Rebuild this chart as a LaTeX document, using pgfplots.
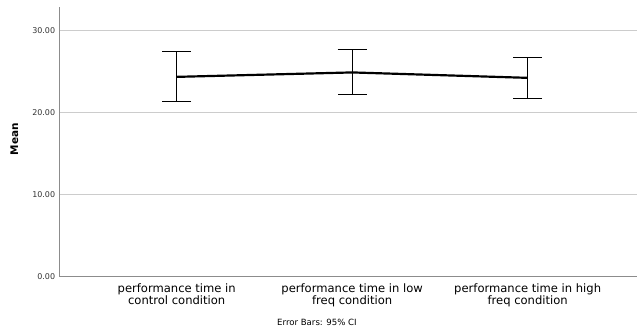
\documentclass[border=0pt]{standalone}
\usepackage{fontspec}
\setmainfont{DejaVu Sans}
\usepackage{pgfplots}
\pgfplotsset{compat=1.18}
\definecolor{gridgray}{HTML}{CCCCCC}
\definecolor{axisgray}{HTML}{8C8C8C}
\definecolor{ticktext}{HTML}{333333}
\begin{document}
\begin{tikzpicture}
\begin{axis}[
  at={(0,0)}, anchor=south west,
  scale only axis,
  width=577.7bp, height=269.4bp,
  xmin=-0.669, xmax=2.623,
  ymin=0, ymax=32.8,
  axis x line*=bottom, axis y line*=left,
  axis line style={axisgray, line width=1pt, -},
  xtick={0,1,2},
  xticklabels={{performance time in\\control condition},{performance time in low\\freq condition},{performance time in high\\freq condition}},
  xticklabel style={align=center, font=\fontsize{11.6}{12}\selectfont, text=black, inner sep=0pt, yshift=-7bp},
  ytick={0,10,20,30},
  yticklabels={0.00,10.00,20.00,30.00},
  yticklabel style={font=\fontsize{8}{9}\selectfont, text=ticktext, inner sep=0pt, xshift=-4bp},
  major tick length=0pt,
  ymajorgrids, grid style={gridgray, line width=0.8pt},
  clip=false,
]
\addplot[black, line width=2.2pt, mark=none,
  error bars/.cd, y dir=both, y explicit,
  error bar style={black, line width=1pt},
  error mark options={black, line width=1pt, mark size=14.5bp, rotate=90}]
  coordinates {
  (0,24.33) +- (0,3.04)
  (1,24.87) +- (0,2.74)
  (2,24.21) +- (0,2.51)
};
\end{axis}
\node[rotate=90, font=\bfseries\fontsize{10.5}{12}\selectfont] at (-44.8bp,137.7bp) {Mean};
\node[font=\fontsize{8.6}{10}\selectfont, anchor=base] at (257.7bp,-48.3bp) {Error Bars: 95\% CI};
\path (-59.3bp,-56.3bp) rectangle (578.7bp,276.7bp);
\end{tikzpicture}
\end{document}
